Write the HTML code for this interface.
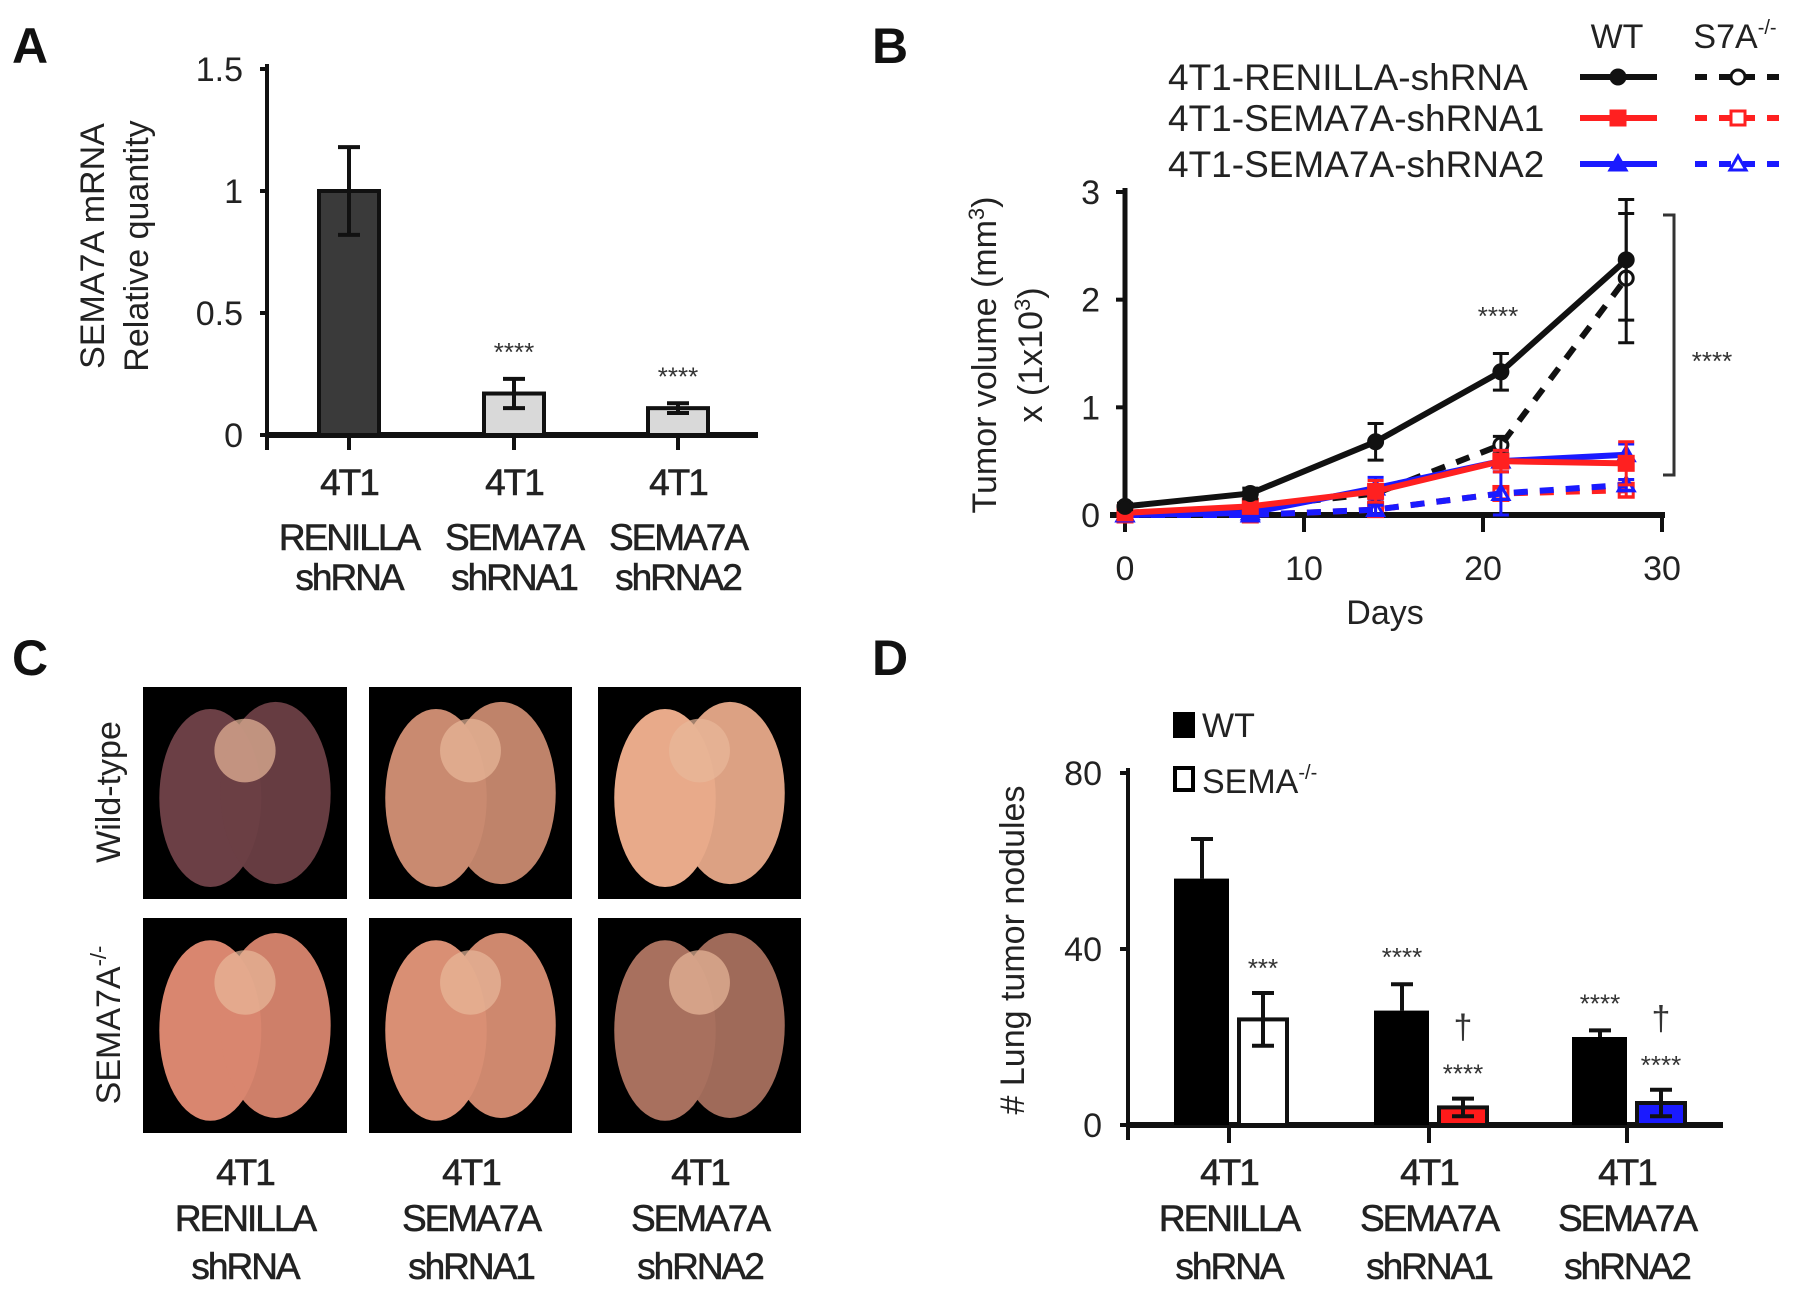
<!DOCTYPE html>
<html><head><meta charset="utf-8"><style>
html,body{margin:0;padding:0;background:#fff;}
svg{display:block;font-family:"Liberation Sans",Arial,sans-serif;}
.t{font-size:34px;fill:#222;}
.c{font-size:37px;fill:#222;letter-spacing:-2px;stroke:#222;stroke-width:0.6px;}
.p{font-size:50px;font-weight:bold;fill:#111;}
</style></head><body>
<svg id="fig" width="1795" height="1294" viewBox="0 0 1795 1294">
<text class="p" x="12" y="63">A</text>
<text class="p" x="872" y="63">B</text>
<text class="p" x="12" y="675">C</text>
<text class="p" x="872" y="675">D</text>
<g id="A"></g>
<g id="B"></g>
<g id="C"></g>
<g id="D"></g>
</svg>
<script>
// Panel A data
const aCats=[["4T1","RENILLA","shRNA"],["4T1","SEMA7A","shRNA1"],["4T1","SEMA7A","shRNA2"]];
const aVals=[1.0,0.17,0.11];
const aErr=[0.18,0.06,0.02];
const aSig=["","****","****"];
const aTicks=[0,0.5,1,1.5];
const aTickLabels=["0","0.5","1","1.5"];
// Panel B data
const bDays=[0,7,14,21,28];
const bWtRen=[0.08,0.2,0.68,1.33,2.37];
const bWtRenErr=[0.03,0.05,0.17,0.17,0.56];
const bKoRen=[0.02,0.07,0.2,0.65,2.2];
const bKoRenErr=[0.02,0.03,0.08,0.08,0.6];
const bWtS1=[0.02,0.08,0.22,0.5,0.48];
const bWtS1Err=[0.02,0.04,0.1,0.1,0.2];
const bWtS2=[0.0,0.02,0.25,0.5,0.56];
const bWtS2Err=[0.01,0.03,0.1,0.1,0.1];
const bKoS1=[0.0,0.0,0.05,0.2,0.23];
const bKoS1Err=[0.01,0.02,0.04,0.05,0.06];
const bKoS2=[0.0,0.0,0.05,0.2,0.28];
const bKoS2Err=[0.01,0.02,0.04,0.2,0.05];
const bXTicks=[0,10,20,30];
const bYTicks=[0,1,2,3];
// Panel D data
const dCats=[["4T1","RENILLA","shRNA"],["4T1","SEMA7A","shRNA1"],["4T1","SEMA7A","shRNA2"]];
const dWt=[56,26,20];
const dWtErr=[9,6,1.5];
const dKo=[24,4,5];
const dKoErr=[6,2,3];
const dWtSig=["","****","****"];
const dKoSig=["***","****","****"];
const dTicks=[0,40,80];

const NS="http://www.w3.org/2000/svg";
function mk(p,tag,at,txt){const e=document.createElementNS(NS,tag);for(const k in at)e.setAttribute(k,at[k]);if(txt!==undefined)e.textContent=txt;p.appendChild(e);return e;}

// ---------- Panel A ----------
(function(){
const g=document.getElementById('A');
const y=v=>435-v*(435-69)/1.5;
const xs=[349,514,678];
const bw=60;
mk(g,'line',{x1:267,y1:64,x2:267,y2:440,stroke:'#111','stroke-width':4});
mk(g,'line',{x1:265,y1:435,x2:758,y2:435,stroke:'#111','stroke-width':6});
aTicks.forEach((t,i)=>{
 const tk=mk(g,'line',{x1:260,y1:y(t),x2:267,y2:y(t),stroke:'#111','stroke-width':4});
 
 const l=mk(g,'text',{class:'t',x:243,y:y(t)+12,'text-anchor':'end'},aTickLabels[i]);
 
});
mk(g,'line',{x1:267,y1:435,x2:267,y2:450,stroke:'#111','stroke-width':4});
aVals.forEach((v,i)=>{
 const r=mk(g,'rect',{x:xs[i]-bw/2,y:y(v),width:bw,height:435-y(v),fill:i==0?'#3a3a3a':'#d9d9d9',stroke:'#111','stroke-width':4});
 
 mk(g,'line',{x1:xs[i],y1:y(v-aErr[i]),x2:xs[i],y2:y(v+aErr[i]),stroke:'#111','stroke-width':4});
 mk(g,'line',{x1:xs[i]-11,y1:y(v+aErr[i]),x2:xs[i]+11,y2:y(v+aErr[i]),stroke:'#111','stroke-width':4});
 mk(g,'line',{x1:xs[i]-11,y1:y(v-aErr[i]),x2:xs[i]+11,y2:y(v-aErr[i]),stroke:'#111','stroke-width':4});
 mk(g,'line',{x1:xs[i],y1:435,x2:xs[i],y2:450,stroke:'#111','stroke-width':4});
 if(aSig[i]){const s=mk(g,'text',{x:xs[i],y:y(v+aErr[i])-18,'text-anchor':'middle','font-size':26,fill:'#333'},aSig[i]);
  }
 aCats[i].forEach((ln,j)=>{const c=mk(g,'text',{class:'c',x:xs[i],y:[495,550,590][j],'text-anchor':'middle'},ln);
  });
});
const yt=mk(g,'text',{class:'t','font-size':36,'text-anchor':'middle',transform:'translate(104,246) rotate(-90)'},'SEMA7A mRNA');

const yt2=mk(g,'text',{class:'t','font-size':36,'text-anchor':'middle',transform:'translate(148,246) rotate(-90)'},'Relative quantity');

})();

// ---------- Panel B ----------
(function(){
const g=document.getElementById('B');
const x=d=>1125+d*(1662-1125)/30;
const y=v=>515-v*(515-192)/3;
mk(g,'line',{x1:1125,y1:188,x2:1125,y2:520,stroke:'#111','stroke-width':5});
mk(g,'line',{x1:1110,y1:515,x2:1665,y2:515,stroke:'#111','stroke-width':6});
bYTicks.forEach(t=>{
 mk(g,'line',{x1:1116,y1:y(t),x2:1125,y2:y(t),stroke:'#111','stroke-width':4});
 const l=mk(g,'text',{class:'t',x:1100,y:y(t)+12,'text-anchor':'end'},String(t));
 
});
bXTicks.forEach(t=>{
 mk(g,'line',{x1:x(t),y1:515,x2:x(t),y2:532,stroke:'#111','stroke-width':4});
 const l=mk(g,'text',{class:'t',x:x(t),y:580,'text-anchor':'middle'},String(t));
 
});
const xt=mk(g,'text',{class:'t',x:1385,y:624,'text-anchor':'middle'},'Days');

const yt=mk(g,'text',{class:'t','text-anchor':'middle',transform:'translate(996,355) rotate(-90)'});
yt.innerHTML='Tumor volume (mm<tspan dy="-12" font-size="22">3</tspan><tspan dy="12">)</tspan>';

const yt2=mk(g,'text',{class:'t','text-anchor':'middle',transform:'translate(1042,355) rotate(-90)'});
yt2.innerHTML='x (1x10<tspan dy="-12" font-size="22">3</tspan><tspan dy="12">)</tspan>';

const series=[
 {v:bKoS1,e:bKoS1Err,c:'#ff2020',d:'14,12',m:'sq',f:'none',n:'series-ko-shrna1'},
 {v:bKoS2,e:bKoS2Err,c:'#1a1aff',d:'14,12',m:'tri',f:'none',n:'series-ko-shrna2'},
 {v:bKoRen,e:bKoRenErr,c:'#111',d:'14,12',m:'circ',f:'none',n:'series-ko-renilla'},
 {v:bWtS2,e:bWtS2Err,c:'#1a1aff',d:'',m:'tri',f:'#1a1aff',n:'series-wt-shrna2'},
 {v:bWtS1,e:bWtS1Err,c:'#ff2020',d:'',m:'sq',f:'#ff2020',n:'series-wt-shrna1'},
 {v:bWtRen,e:bWtRenErr,c:'#111',d:'',m:'circ',f:'#111',n:'series-wt-renilla'}];
series.forEach(s=>{
 const pts=s.v.map((v,i)=>x(bDays[i])+','+y(v)).join(' ');
 const pl=mk(g,'polyline',{points:pts,fill:'none',stroke:s.c,'stroke-width':6,'stroke-dasharray':s.d||'none'});
 
 s.v.forEach((v,i)=>{
  const cx=x(bDays[i]),cy=y(v),lo=y(Math.max(0,v-s.e[i])),hi=y(v+s.e[i]);
  mk(g,'line',{x1:cx,y1:lo,x2:cx,y2:hi,stroke:s.c,'stroke-width':3});
  mk(g,'line',{x1:cx-8,y1:hi,x2:cx+8,y2:hi,stroke:s.c,'stroke-width':3});
  mk(g,'line',{x1:cx-8,y1:lo,x2:cx+8,y2:lo,stroke:s.c,'stroke-width':3});
  let mkr;
  if(s.m=='circ')mkr=mk(g,'circle',{cx:cx,cy:cy,r:7,fill:s.f,stroke:s.c,'stroke-width':3});
  else if(s.m=='sq')mkr=mk(g,'rect',{x:cx-7,y:cy-7,width:14,height:14,fill:s.f,stroke:s.c,'stroke-width':3});
  else mkr=mk(g,'polygon',{points:`${cx},${cy-8} ${cx-8},${cy+6} ${cx+8},${cy+6}`,fill:s.f,stroke:s.c,'stroke-width':3});
  
 });
});
const st=mk(g,'text',{x:1498,y:325,'text-anchor':'middle','font-size':26,fill:'#333'},'****');

const br=mk(g,'polyline',{points:'1663,215 1674,215 1674,475 1663,475',fill:'none',stroke:'#333','stroke-width':3});

const st2=mk(g,'text',{x:1712,y:370,'text-anchor':'middle','font-size':26,fill:'#333'},'****');

// legend
const h1=mk(g,'text',{class:'t',x:1617,y:48,'text-anchor':'middle'},'WT');

const h2=mk(g,'text',{class:'t',x:1735,y:48,'text-anchor':'middle'});
h2.innerHTML='S7A<tspan dy="-14" font-size="20">-/-</tspan>';

const leg=[['4T1-RENILLA-shRNA','#111','circ',77],['4T1-SEMA7A-shRNA1','#ff2020','sq',118],['4T1-SEMA7A-shRNA2','#1a1aff','tri',164]];
leg.forEach(l=>{
 const t=mk(g,'text',{x:1168,y:l[3]+13,'font-size':37,fill:'#222'},l[0]);
 
 mk(g,'line',{x1:1580,y1:l[3],x2:1657,y2:l[3],stroke:l[1],'stroke-width':6});
 mk(g,'line',{x1:1695,y1:l[3],x2:1780,y2:l[3],stroke:l[1],'stroke-width':6,'stroke-dasharray':'12,12'});
 [[1618,l[1]],[1738,'#fff']].forEach(p=>{
  const cx=p[0],cy=l[3];
  if(l[2]=='circ')mk(g,'circle',{cx:cx,cy:cy,r:7,fill:p[1],stroke:l[1],'stroke-width':3});
  else if(l[2]=='sq')mk(g,'rect',{x:cx-7,y:cy-7,width:14,height:14,fill:p[1],stroke:l[1],'stroke-width':3});
  else mk(g,'polygon',{points:`${cx},${cy-8} ${cx-8},${cy+6} ${cx+8},${cy+6}`,fill:p[1],stroke:l[1],'stroke-width':3});
 });
});
})();

// ---------- Panel C ----------
(function(){
const g=document.getElementById('C');
const cols=[[143,347],[369,572],[598,801]];
const rows=[[687,899],[918,1133]];
const colors=[['#6b3f45','#c98a70','#e8aa8a'],['#d9866f','#d98f74','#a8705e']];
const names=[['wt-renilla','wt-shrna1','wt-shrna2'],['ko-renilla','ko-shrna1','ko-shrna2']];
rows.forEach((r,ri)=>cols.forEach((c,ci)=>{
 const gg=mk(g,'g',{});
 
 mk(gg,'rect',{x:c[0],y:r[0],width:c[1]-c[0],height:r[1]-r[0],fill:'#000'});
 const cx=(c[0]+c[1])/2,cy=(r[0]+r[1])/2,w=(c[1]-c[0]),h=(r[1]-r[0]);
 mk(gg,'ellipse',{cx:cx-w*0.17,cy:cy+5,rx:w*0.25,ry:h*0.42,fill:colors[ri][ci]});
 mk(gg,'ellipse',{cx:cx+w*0.15,cy:cy,rx:w*0.27,ry:h*0.43,fill:colors[ri][ci],opacity:0.95});
 mk(gg,'ellipse',{cx:cx,cy:cy-h*0.2,rx:w*0.15,ry:h*0.15,fill:'#e8b89a',opacity:0.7});
}));
const w1=mk(g,'text',{class:'t','text-anchor':'middle',transform:'translate(120,792) rotate(-90)'},'Wild-type');

const w2=mk(g,'text',{class:'t','text-anchor':'middle',transform:'translate(120,1025) rotate(-90)'});
w2.innerHTML='SEMA7A<tspan dy="-14" font-size="22">-/-</tspan>';

const labs=[["4T1","RENILLA","shRNA"],["4T1","SEMA7A","shRNA1"],["4T1","SEMA7A","shRNA2"]];
[245,471,700].forEach((x,i)=>labs[i].forEach((ln,j)=>{
 const t=mk(g,'text',{class:'c',x:x,y:[1185,1231,1279][j],'text-anchor':'middle'},ln);
 
}));
})();

// ---------- Panel D ----------
(function(){
const g=document.getElementById('D');
const y=v=>1125-v*(1125-773)/80;
const cs=[1229,1429,1627];
mk(g,'line',{x1:1128,y1:768,x2:1128,y2:1140,stroke:'#111','stroke-width':4});
mk(g,'line',{x1:1126,y1:1125,x2:1723,y2:1125,stroke:'#111','stroke-width':6});
dTicks.forEach(t=>{
 mk(g,'line',{x1:1120,y1:y(t),x2:1128,y2:y(t),stroke:'#111','stroke-width':4});
 const l=mk(g,'text',{class:'t',x:1102,y:y(t)+12,'text-anchor':'end'},String(t));
 
});
const kofill=['#fff','#ff1a1a','#1a1aff'];
dWt.forEach((v,i)=>{
 const c=cs[i];
 mk(g,'line',{x1:c,y1:1125,x2:c,y2:1143,stroke:'#111','stroke-width':4});
 const b=mk(g,'rect',{x:c-55,y:y(v),width:55,height:1125-y(v),fill:'#000'});
 
 const e=y(v+dWtErr[i]);
 mk(g,'line',{x1:c-27,y1:y(v),x2:c-27,y2:e,stroke:'#111','stroke-width':4});
 mk(g,'line',{x1:c-38,y1:e,x2:c-16,y2:e,stroke:'#111','stroke-width':4});
 if(dWtSig[i]){const s=mk(g,'text',{x:c-27,y:e-18,'text-anchor':'middle','font-size':26,fill:'#333'},dWtSig[i]);
  }
 const kv=dKo[i],kx=c+8;
 const k=mk(g,'rect',{x:kx+2,y:y(kv),width:48,height:1125-y(kv),fill:kofill[i],stroke:'#111','stroke-width':4});
 
 const ke=y(kv+dKoErr[i]),kl=y(Math.max(0,kv-dKoErr[i]));
 mk(g,'line',{x1:kx+26,y1:kl,x2:kx+26,y2:ke,stroke:'#111','stroke-width':4});
 mk(g,'line',{x1:kx+15,y1:ke,x2:kx+37,y2:ke,stroke:'#111','stroke-width':4});
 mk(g,'line',{x1:kx+15,y1:kl,x2:kx+37,y2:kl,stroke:'#111','stroke-width':4});
 const s=mk(g,'text',{x:kx+26,y:ke-16,'text-anchor':'middle','font-size':26,fill:'#333'},dKoSig[i]);
 
 if(i>0){const d=mk(g,'text',{x:kx+26,y:ke-60,'text-anchor':'middle','font-size':34,fill:'#333'},'†');
  }
 dCats[i].forEach((ln,j)=>{const t=mk(g,'text',{class:'c',x:c,y:[1185,1231,1279][j],'text-anchor':'middle'},ln);
  });
});
const yt=mk(g,'text',{class:'t','text-anchor':'middle',transform:'translate(1024,950) rotate(-90)'},'# Lung tumor nodules');

mk(g,'rect',{x:1173,y:712,width:22,height:26,fill:'#000'});
const l1=mk(g,'text',{class:'t',x:1202,y:737},'WT');

mk(g,'rect',{x:1175,y:768,width:18,height:22,fill:'#fff',stroke:'#000','stroke-width':4});
const l2=mk(g,'text',{class:'t',x:1202,y:793});
l2.innerHTML='SEMA<tspan dy="-14" font-size="20">-/-</tspan>';

})();
</script>
</body></html>
